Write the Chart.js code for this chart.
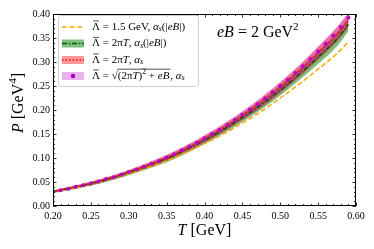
<!DOCTYPE html>
<html>
<head>
<meta charset="utf-8">
<script src="https://cdn.jsdelivr.net/npm/chart.js@4"></script>
<style>
  html, body { margin: 0; padding: 0; background: #fff; }
  #wrap { width: 374px; height: 249px; }
</style>
</head>
<body>
<div id="wrap"><canvas id="c" width="374" height="249"></canvas></div>
<script>
// temperatures T [GeV] for the bands / lines
const temps = [0.200, 0.225, 0.250, 0.275, 0.300, 0.325, 0.350, 0.375, 0.400, 0.425, 0.450, 0.475, 0.500, 0.525, 0.550, 0.575, 0.590];

// Lambda = 1.5 GeV, alpha_s(|eB|)
const orangeP = [0.029, 0.037, 0.045, 0.055, 0.067, 0.080, 0.094, 0.111, 0.130, 0.150, 0.173, 0.197, 0.225, 0.254, 0.285, 0.318, 0.342];

// Lambda = 2 pi T, alpha_s(|eB|)
const greenP   = [0.030, 0.038, 0.047, 0.057, 0.070, 0.084, 0.099, 0.117, 0.137, 0.159, 0.184, 0.211, 0.241, 0.274, 0.310, 0.348, 0.378];
const greenLo  = [0.027, 0.034, 0.042, 0.052, 0.064, 0.077, 0.091, 0.109, 0.129, 0.151, 0.175, 0.201, 0.230, 0.262, 0.296, 0.333, 0.364];
const greenHi  = [0.032, 0.040, 0.049, 0.060, 0.073, 0.087, 0.103, 0.122, 0.143, 0.166, 0.192, 0.220, 0.251, 0.285, 0.322, 0.362, 0.392];

// Lambda = 2 pi T, alpha_s
const redP     = [0.030, 0.038, 0.047, 0.058, 0.070, 0.085, 0.100, 0.119, 0.140, 0.163, 0.188, 0.216, 0.247, 0.281, 0.319, 0.358, 0.386];
const redLo    = [0.028, 0.035, 0.043, 0.054, 0.066, 0.079, 0.094, 0.112, 0.132, 0.154, 0.179, 0.205, 0.235, 0.268, 0.304, 0.342, 0.371];
const redHi    = [0.033, 0.041, 0.051, 0.062, 0.075, 0.090, 0.106, 0.125, 0.147, 0.170, 0.196, 0.225, 0.257, 0.292, 0.331, 0.372, 0.401];

// Lambda = sqrt((2 pi T)^2 + eB), alpha_s  (band)
const magLo    = [0.028, 0.036, 0.044, 0.054, 0.067, 0.080, 0.095, 0.113, 0.133, 0.155, 0.180, 0.207, 0.237, 0.270, 0.307, 0.345, 0.374];
const magHi    = [0.033, 0.041, 0.051, 0.062, 0.075, 0.090, 0.107, 0.126, 0.148, 0.172, 0.198, 0.227, 0.259, 0.294, 0.333, 0.374, 0.404];

// dots on the magenta curve (every 10 MeV)
const tempsFine = [0.20, 0.21, 0.22, 0.23, 0.24, 0.25, 0.26, 0.27, 0.28, 0.29,
                   0.30, 0.31, 0.32, 0.33, 0.34, 0.35, 0.36, 0.37, 0.38, 0.39,
                   0.40, 0.41, 0.42, 0.43, 0.44, 0.45, 0.46, 0.47, 0.48, 0.49,
                   0.50, 0.51, 0.52, 0.53, 0.54, 0.55, 0.56, 0.57, 0.58, 0.59];
const magP     = [0.030, 0.033, 0.036, 0.040, 0.043, 0.047, 0.051, 0.056, 0.060, 0.065,
                  0.071, 0.076, 0.082, 0.088, 0.094, 0.101, 0.108, 0.116, 0.124, 0.132,
                  0.141, 0.150, 0.159, 0.169, 0.179, 0.190, 0.201, 0.212, 0.224, 0.237,
                  0.250, 0.263, 0.277, 0.291, 0.306, 0.322, 0.338, 0.355, 0.373, 0.392];

const xTicks = [0.20, 0.25, 0.30, 0.35, 0.40, 0.45, 0.50, 0.55, 0.60];
const yTicks = [0.00, 0.05, 0.10, 0.15, 0.20, 0.25, 0.30, 0.35, 0.40];

const SERIF = '"Liberation Serif", "DejaVu Serif", serif';

function pts(xs, ys) {
  return xs.map((x, i) => ({ x: x, y: ys[i] }));
}

// draws text made of pieces: r = roman, i = italic, sub/sup, bar = letter with a bar,
// root/rootend = square root sign with overline
function rich(ctx, x, y, parts, size, draw) {
  let cx = x;
  let rootStart = null;
  parts.forEach(function (p) {
    const t = p[0], s = p[1];
    let fs = size, dy = 0, it = false;
    if (s === 'i') it = true;
    if (s === 'sub') { fs = size * 0.7; dy = size * 0.22; it = true; }
    if (s === 'sup') { fs = size * 0.7; dy = -size * 0.38; }
    ctx.font = (it ? 'italic ' : '') + fs + 'px ' + SERIF;
    const w = ctx.measureText(t).width;
    if (s === 'rootend') {
      if (draw) {
        ctx.beginPath();
        ctx.moveTo(rootStart, y - size * 0.62);
        ctx.lineTo(cx + 1, y - size * 0.62);
        ctx.lineWidth = 0.7;
        ctx.stroke();
      }
      cx += 1;
      return;
    }
    if (draw) ctx.fillText(t, cx, y + dy);
    if (s === 'bar' && draw) {
      ctx.beginPath();
      ctx.moveTo(cx + w * 0.15, y - size * 0.55);
      ctx.lineTo(cx + w * 0.85, y - size * 0.55);
      ctx.lineWidth = 0.7;
      ctx.stroke();
    }
    cx += w;
    if (s === 'root') rootStart = cx - 0.5;
  });
  return cx - x;
}

const legendRows = [
  [['Λ', 'bar'], [' = 1.5 GeV, ', 'r'], ['α', 'i'], ['s', 'sub'], ['(|', 'r'], ['eB', 'i'], ['|)', 'r']],
  [['Λ', 'bar'], [' = 2π', 'r'], ['T', 'i'], [', ', 'r'], ['α', 'i'], ['s', 'sub'], ['(|', 'r'], ['eB', 'i'], ['|)', 'r']],
  [['Λ', 'bar'], [' = 2π', 'r'], ['T', 'i'], [', ', 'r'], ['α', 'i'], ['s', 'sub']],
  [['Λ', 'bar'], [' = ', 'r'], ['√', 'root'], ['(2π', 'r'], ['T', 'i'], [')', 'r'], ['2', 'sup'], [' + ', 'r'], ['eB', 'i'], ['', 'rootend'], [', ', 'r'], ['α', 'i'], ['s', 'sub']]
];

const decor = {
  id: 'decor',
  afterDraw(chart) {
    const ctx = chart.ctx;
    const a = chart.chartArea;
    const xs = chart.scales.x, ys = chart.scales.y;
    ctx.save();
    ctx.strokeStyle = '#000';
    ctx.fillStyle = '#000';

    // frame
    ctx.lineWidth = 1;
    ctx.strokeRect(a.left + 0.5, a.top + 0.5, a.right - a.left - 1, a.bottom - a.top - 1);

    // inward ticks on all sides
    ctx.lineWidth = 0.8;
    ctx.beginPath();
    for (let k = 0; k <= 40; k++) {
      const v = 0.2 + k * 0.01;
      const px = Math.round(xs.getPixelForValue(v)) + 0.5;
      const len = (k % 5 === 0) ? 3.5 : 2;
      ctx.moveTo(px, a.bottom); ctx.lineTo(px, a.bottom - len);
      ctx.moveTo(px, a.top); ctx.lineTo(px, a.top + len);
    }
    for (let k = 0; k <= 40; k++) {
      const v = k * 0.01;
      const py = Math.round(ys.getPixelForValue(v)) + 0.5;
      const len = (k % 5 === 0) ? 3.5 : 2;
      ctx.moveTo(a.left, py); ctx.lineTo(a.left + len, py);
      ctx.moveTo(a.right, py); ctx.lineTo(a.right - len, py);
    }
    ctx.stroke();

    // axis titles
    ctx.textBaseline = 'middle';
    const xt = [['T', 'i'], [' [GeV]', 'r']];
    let w = rich(ctx, 0, 0, xt, 16, false);
    rich(ctx, (a.left + a.right) / 2 - w / 2, 231, xt, 16, true);

    const yt = [['P', 'i'], [' [GeV', 'r'], ['4', 'sup'], [']', 'r']];
    w = rich(ctx, 0, 0, yt, 16, false);
    ctx.save();
    ctx.translate(19, 103);
    ctx.rotate(-Math.PI / 2);
    rich(ctx, -w / 2, 0, yt, 16, true);
    ctx.restore();

    // eB label
    rich(ctx, 217, 33, [['eB', 'i'], [' = 2 GeV', 'r'], ['2', 'sup']], 16, true);

    // legend box
    ctx.beginPath();
    ctx.roundRect(58.5, 15.5, 140, 71, 3);
    ctx.fillStyle = 'rgba(255,255,255,0.8)';
    ctx.fill();
    ctx.strokeStyle = '#d0d0d0';
    ctx.lineWidth = 1;
    ctx.stroke();

    const rowY = [27, 43.5, 60, 76];
    const hx0 = 62, hx1 = 84;
    // row 1: orange dashed
    ctx.strokeStyle = '#ffa500';
    ctx.lineWidth = 1.5;
    ctx.setLineDash([5, 2.5]);
    ctx.beginPath(); ctx.moveTo(hx0, rowY[0]); ctx.lineTo(hx1, rowY[0]); ctx.stroke();
    // row 2: green band + dash-dot
    ctx.setLineDash([]);
    ctx.fillStyle = 'rgba(0,128,0,0.5)';
    ctx.fillRect(hx0, rowY[1] - 4, hx1 - hx0, 8);
    ctx.strokeStyle = '#005a00';
    ctx.setLineDash([5, 1.8, 1.5, 1.8]);
    ctx.beginPath(); ctx.moveTo(hx0, rowY[1]); ctx.lineTo(hx1, rowY[1]); ctx.stroke();
    // row 3: red band + dotted
    ctx.setLineDash([]);
    ctx.fillStyle = 'rgba(255,0,0,0.4)';
    ctx.fillRect(hx0, rowY[2] - 4, hx1 - hx0, 8);
    ctx.strokeStyle = '#ff0000';
    ctx.setLineDash([1.5, 2]);
    ctx.beginPath(); ctx.moveTo(hx0, rowY[2]); ctx.lineTo(hx1, rowY[2]); ctx.stroke();
    // row 4: magenta band + dot
    ctx.setLineDash([]);
    ctx.fillStyle = 'rgba(191,0,191,0.3)';
    ctx.fillRect(hx0, rowY[3] - 4, hx1 - hx0, 8);
    ctx.fillStyle = '#a000c0';
    ctx.beginPath(); ctx.arc((hx0 + hx1) / 2, rowY[3], 2.2, 0, Math.PI * 2); ctx.fill();

    // legend texts
    ctx.fillStyle = '#000';
    ctx.strokeStyle = '#000';
    legendRows.forEach(function (row, i) {
      rich(ctx, 92, rowY[i], row, 11, true);
    });
    ctx.restore();
  }
};

new Chart(document.getElementById('c'), {
  type: 'line',
  data: {
    datasets: [
      { data: pts(temps, greenLo), borderWidth: 0, pointRadius: 0, fill: false, order: 10 },
      { data: pts(temps, greenHi), borderWidth: 0, pointRadius: 0, fill: '-1', backgroundColor: 'rgba(0,128,0,0.5)', order: 9 },
      { data: pts(temps, redLo), borderWidth: 0, pointRadius: 0, fill: false, order: 8 },
      { data: pts(temps, redHi), borderWidth: 0, pointRadius: 0, fill: '-1', backgroundColor: 'rgba(255,0,0,0.4)', order: 7 },
      { data: pts(temps, magLo), borderWidth: 0, pointRadius: 0, fill: false, order: 6 },
      { data: pts(temps, magHi), borderWidth: 0, pointRadius: 0, fill: '-1', backgroundColor: 'rgba(191,0,191,0.3)', order: 5 },
      { data: pts(temps, orangeP), borderColor: '#ffa500', borderWidth: 1.5, borderDash: [5, 2.5], pointRadius: 0, fill: false, order: 4 },
      { data: pts(temps, greenP), borderColor: '#005a00', borderWidth: 1.5, borderDash: [5, 1.8, 1.5, 1.8], pointRadius: 0, fill: false, order: 3 },
      { data: pts(temps, redP), borderColor: '#ff0000', borderWidth: 1.5, borderDash: [1.5, 2], pointRadius: 0, fill: false, order: 2 },
      { data: pts(tempsFine, magP), showLine: false, pointRadius: 2, pointBackgroundColor: '#bf00bf', pointBorderWidth: 0, fill: false, order: 1 }
    ]
  },
  options: {
    responsive: false,
    animation: false,
    devicePixelRatio: 1,
    cubicInterpolationMode: 'monotone',
    layout: { padding: { top: 14, right: 18, left: 0, bottom: 0 } },
    plugins: { legend: { display: false }, tooltip: { enabled: false } },
    scales: {
      x: {
        type: 'linear', min: 0.2, max: 0.6,
        afterBuildTicks: function (s) { s.ticks = xTicks.map(v => ({ value: v })); },
        afterFit: function (s) { s.height = 43; },
        ticks: { callback: v => v.toFixed(2), color: '#000', padding: 4, maxRotation: 0, autoSkip: false, font: { family: SERIF, size: 10 } },
        grid: { display: false, drawTicks: false },
        border: { display: false }
      },
      y: {
        min: 0, max: 0.4,
        afterBuildTicks: function (s) { s.ticks = yTicks.map(v => ({ value: v })); },
        afterFit: function (s) { s.width = 53; },
        ticks: { callback: v => v.toFixed(2), color: '#000', padding: 3, autoSkip: false, font: { family: SERIF, size: 10 } },
        grid: { display: false, drawTicks: false },
        border: { display: false }
      }
    }
  },
  plugins: [decor]
});
</script>
</body>
</html>
